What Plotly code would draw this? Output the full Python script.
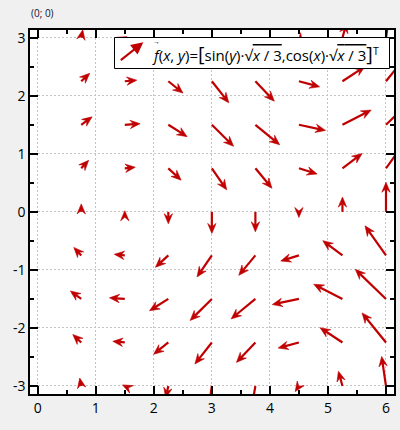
import math
import plotly.graph_objects as go

X_GRID = [0, 0.75, 1.5, 2.25, 3, 3.75, 4.5, 5.25, 6]
Y_GRID = [-3, -2.25, -1.5, -0.75, 0, 0.75, 1.5, 2.25, 3]

# x-components, one row per Y_GRID value, one column per X_GRID value
DX = [
    [0, -0.071, -0.100, -0.122, -0.141, -0.158, -0.173, -0.187, -0.200],
    [0, -0.389, -0.550, -0.674, -0.778, -0.870, -0.953, -1.029, -1.100],
    [0, -0.499, -0.705, -0.864, -0.998, -1.115, -1.222, -1.320, -1.411],
    [0, -0.341, -0.482, -0.590, -0.682, -0.762, -0.835, -0.902, -0.964],
    [0, 0, 0, 0, 0, 0, 0, 0, 0],
    [0, 0.341, 0.482, 0.590, 0.682, 0.762, 0.835, 0.902, 0.964],
    [0, 0.499, 0.705, 0.864, 0.998, 1.115, 1.222, 1.320, 1.411],
    [0, 0.389, 0.550, 0.674, 0.778, 0.870, 0.953, 1.029, 1.100],
    [0, 0.071, 0.100, 0.122, 0.141, 0.158, 0.173, 0.187, 0.200],
]
# y-components, same layout
DY = [
    [0, 0.366, 0.050, -0.544, -0.990, -0.917, -0.258, 0.677, 1.358],
    [0, 0.366, 0.050, -0.544, -0.990, -0.917, -0.258, 0.677, 1.358],
    [0, 0.366, 0.050, -0.544, -0.990, -0.917, -0.258, 0.677, 1.358],
    [0, 0.366, 0.050, -0.544, -0.990, -0.917, -0.258, 0.677, 1.358],
    [0, 0.366, 0.050, -0.544, -0.990, -0.917, -0.258, 0.677, 1.358],
    [0, 0.366, 0.050, -0.544, -0.990, -0.917, -0.258, 0.677, 1.358],
    [0, 0.366, 0.050, -0.544, -0.990, -0.917, -0.258, 0.677, 1.358],
    [0, 0.366, 0.050, -0.544, -0.990, -0.917, -0.258, 0.677, 1.358],
    [0, 0.366, 0.050, -0.544, -0.990, -0.917, -0.258, 0.677, 1.358],
]

X_TICKS = [0, 1, 2, 3, 4, 5, 6]
X_TICK_TEXT = ["0", "1", "2", "3", "4", "5", "6"]
Y_TICKS = [-3, -2, -1, 0, 1, 2, 3]
Y_TICK_TEXT = ["-3", "-2", "-1", "0", "1", "2", "3"]
LEGEND_TEXT = ("<i>f</i>(<i>x</i>, <i>y</i>)="
               "<span style='font-size:20px'>[</span>sin(<i>y</i>)·√"
               "<span style='text-decoration:overline'><i>x</i> / 3</span>,"
               "cos(<i>x</i>)·√"
               "<span style='text-decoration:overline'><i>x</i> / 3</span>"
               "<span style='font-size:20px'>]</span><sup>T</sup>")
VEC_MARK = "\u2192"
CORNER_TEXT = "(0; 0)"

# ---- style / layout ----
W, H = 400, 430
ML, MT, PW, PH = 30, 30, 364, 364
X_RANGE = [-0.133, 6.138]
Y_RANGE = [-3.138, 3.133]
COLOR = "#c00000"
LEN_SCALE = 0.375
HEAD_LEN = 10.0
HEAD_HW = 4.2
NOTCH = 0.65
FONT = "Open Sans"

sx = PW / (X_RANGE[1] - X_RANGE[0])
sy = PH / (Y_RANGE[1] - Y_RANGE[0])

lx, ly, hx, hy = [], [], [], []
for j, y0 in enumerate(Y_GRID):
    for i, x0 in enumerate(X_GRID):
        vx, vy = DX[j][i] * LEN_SCALE, DY[j][i] * LEN_SCALE
        if vx == 0 and vy == 0:
            continue
        tx, ty = x0 + vx, y0 + vy
        px, py = vx * sx, vy * sy
        L = math.hypot(px, py)
        ux, uy = px / L, py / L
        nx, ny = -uy, ux
        bx, by = -HEAD_LEN * ux, -HEAD_LEN * uy
        w1 = (tx + (bx + HEAD_HW * nx) / sx, ty + (by + HEAD_HW * ny) / sy)
        w2 = (tx + (bx - HEAD_HW * nx) / sx, ty + (by - HEAD_HW * ny) / sy)
        nt = (tx - NOTCH * HEAD_LEN * ux / sx, ty - NOTCH * HEAD_LEN * uy / sy)
        hx += [tx, w1[0], nt[0], w2[0], tx, None]
        hy += [ty, w1[1], nt[1], w2[1], ty, None]
        if L > NOTCH * HEAD_LEN:
            lx += [x0, nt[0], None]
            ly += [y0, nt[1], None]

fig = go.Figure()
fig.add_trace(go.Scatter(x=lx, y=ly, mode="lines",
                         line=dict(color=COLOR, width=2.2),
                         hoverinfo="skip", showlegend=False))
fig.add_trace(go.Scatter(x=hx, y=hy, mode="lines", fill="toself",
                         fillcolor=COLOR, line=dict(color=COLOR, width=0.6),
                         hoverinfo="skip", showlegend=False))

axis_common = dict(
    showline=True, linecolor="black", linewidth=1.5, mirror="ticks",
    ticks="inside", ticklen=8, tickwidth=1.5, tickcolor="black",
    showgrid=True, gridcolor="#c4c4c4", gridwidth=1, griddash="2px,2px",
    zeroline=False, automargin=False,
    tickfont=dict(family=FONT, size=14, color="black"),
    minor=dict(dtick=0.5, ticks="inside", ticklen=4, tickwidth=1.5,
               tickcolor="black", showgrid=False),
)
fig.update_xaxes(range=X_RANGE, tickvals=X_TICKS, ticktext=X_TICK_TEXT, **axis_common)
fig.update_yaxes(range=Y_RANGE, tickvals=Y_TICKS, ticktext=Y_TICK_TEXT, **axis_common)

def px2paper(xp, yp):
    return (xp - ML) / PW, (MT + PH - yp) / PH

b0 = px2paper(114.5, 37.5)
b1 = px2paper(389.5, 68.5)
fig.add_shape(type="rect", xref="paper", yref="paper",
              x0=b0[0], y0=b1[1], x1=b1[0], y1=b0[1],
              fillcolor="white", line=dict(color="black", width=1), layer="above")

ah = px2paper(143.3, 42.3)
fig.add_annotation(xref="paper", yref="paper", x=ah[0], y=ah[1], ax=-24, ay=19,
                   text="", showarrow=True, arrowhead=2, arrowsize=1.1,
                   arrowwidth=2.2, arrowcolor=COLOR, standoff=0)
tp = px2paper(150, 53)
fig.add_annotation(xref="paper", yref="paper", x=tp[0], y=tp[1],
                   xanchor="left", yanchor="middle", showarrow=False,
                   text=LEGEND_TEXT, font=dict(family=FONT, size=15, color="black"))
vp = px2paper(156, 41)
fig.add_annotation(xref="paper", yref="paper", x=vp[0], y=vp[1],
                   xanchor="center", yanchor="middle", showarrow=False,
                   text=VEC_MARK, font=dict(family=FONT, size=7, color="black"))
lp = px2paper(29, 13)
fig.add_annotation(xref="paper", yref="paper", x=lp[0], y=lp[1],
                   xanchor="left", yanchor="middle", showarrow=False,
                   text=CORNER_TEXT, font=dict(family=FONT, size=10, color="#101040"))

fig.update_layout(
    width=W, height=H, autosize=False,
    margin=dict(l=ML, t=MT, r=W - ML - PW, b=H - MT - PH, pad=0, autoexpand=False),
    paper_bgcolor="#f0f0f0", plot_bgcolor="white",
    showlegend=False,
)
fig.write_html("out.html", config={"displayModeBar": False},
               post_script="document.body.style.margin='0';"
                           "document.body.style.overflow='hidden';")
